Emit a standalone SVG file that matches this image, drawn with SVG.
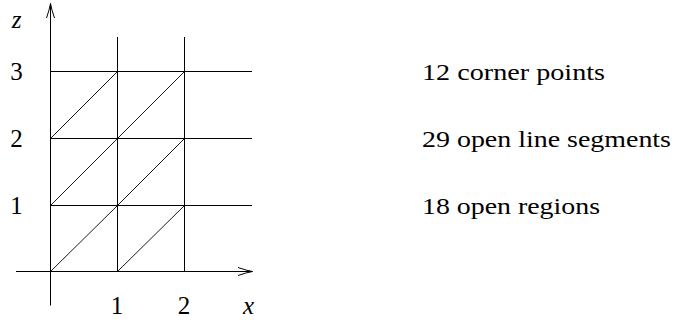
<svg xmlns="http://www.w3.org/2000/svg" width="677" height="320" viewBox="0 0 677 320">
  <style>
    .ln { stroke: #000; stroke-width: 1; fill: none; }
    .dg { stroke: #000; stroke-width: 0.9; fill: none; }
    .it { font-style: italic; }
  </style>
  <defs>
    <marker id="arr" markerUnits="userSpaceOnUse" markerWidth="20" markerHeight="12" viewBox="-16 -6 20 12" refX="0" refY="0" orient="auto" overflow="visible">
      <path d="M-14.5,-4 Q-6,-1 0,0 Q-6,1 -14.5,4" fill="none" stroke="#000" stroke-width="1"/>
    </marker>
  </defs>
  <rect width="677" height="320" fill="#fff"/>
  <g id="connectors">
    <line id="x-axis" class="ln" x1="16" y1="271.5" x2="252.5" y2="271.5" marker-end="url(#arr)"/>
    <line id="z-axis" class="ln" x1="50.5" y1="305.5" x2="50.5" y2="3.5" marker-end="url(#arr)"/>
    <g id="grid">
      <line class="ln" x1="117.5" y1="37" x2="117.5" y2="271.5"/>
      <line class="ln" x1="184.5" y1="37" x2="184.5" y2="271.5"/>
      <line class="ln" x1="50.5" y1="71.5" x2="252" y2="71.5"/>
      <line class="ln" x1="50.5" y1="138.5" x2="252" y2="138.5"/>
      <line class="ln" x1="50.5" y1="205.5" x2="252" y2="205.5"/>
    </g>
    <g id="diagonals">
      <line class="dg" x1="50.5" y1="271.5" x2="117.5" y2="205.5"/>
      <line class="dg" x1="117.5" y1="271.5" x2="184.5" y2="205.5"/>
      <line class="dg" x1="50.5" y1="205.5" x2="117.5" y2="138.5"/>
      <line class="dg" x1="117.5" y1="205.5" x2="184.5" y2="138.5"/>
      <line class="dg" x1="50.5" y1="138.5" x2="117.5" y2="71.5"/>
      <line class="dg" x1="117.5" y1="138.5" x2="184.5" y2="71.5"/>
    </g>
  </g>
  <g id="axis-labels" font-family="Liberation Serif, Times New Roman, serif" font-size="25" fill="#000">
    <text class="it" x="16.5" y="28" text-anchor="middle">z</text>
    <text x="16.5" y="80" text-anchor="middle">3</text>
    <text x="16.5" y="147" text-anchor="middle">2</text>
    <text x="16.5" y="213.5" text-anchor="middle">1</text>
    <text x="117" y="314" text-anchor="middle">1</text>
    <text x="184" y="314" text-anchor="middle">2</text>
    <text class="it" x="248.5" y="314" text-anchor="middle">x</text>
  </g>
  <g id="counts" font-family="Liberation Serif, Times New Roman, serif" font-size="24" fill="#000">
    <text x="422" y="79.5" textLength="183" lengthAdjust="spacingAndGlyphs">12 corner points</text>
    <text x="422" y="146.5" textLength="249" lengthAdjust="spacingAndGlyphs">29 open line segments</text>
    <text x="422" y="213.5" textLength="178" lengthAdjust="spacingAndGlyphs">18 open regions</text>
  </g>
</svg>
